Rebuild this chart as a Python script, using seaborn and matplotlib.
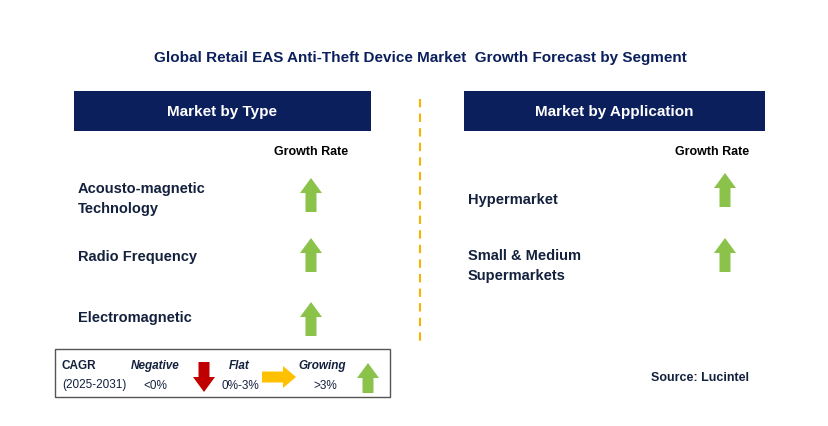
import matplotlib
matplotlib.use("Agg")
import matplotlib.pyplot as plt
import seaborn as sns
from matplotlib.patches import Rectangle, Polygon

sns.set_theme(style="white")
plt.rcParams["font.family"] = "Liberation Sans"

title = "Global Retail EAS Anti-Theft Device Market  Growth Forecast by Segment"
type_labels = ["Acousto-magnetic\nTechnology", "Radio Frequency", "Electromagnetic"]
type_trend = ["up", "up", "up"]
app_labels = ["Hypermarket", "Small & Medium\nSupermarkets"]
app_trend = ["up", "up"]

NAVY = "#0b1f5c"
TXT = "#14213d"
GREEN = "#8bc34a"

fig = plt.figure(figsize=(8.29, 4.27), dpi=100)
ax = fig.add_axes([0, 0, 1, 1])
ax.set_xlim(0, 829); ax.set_ylim(427, 0); ax.axis("off")

def up_arrow(cx, cy, color=GREEN, w=22, sw=11, h=34, hh=15):
    top = cy - h / 2; bot = cy + h / 2
    pts = [(cx, top), (cx + w / 2, top + hh), (cx + sw / 2, top + hh), (cx + sw / 2, bot),
           (cx - sw / 2, bot), (cx - sw / 2, top + hh), (cx - w / 2, top + hh)]
    ax.add_patch(Polygon(pts, closed=True, color=color, lw=0))

def down_arrow(cx, cy, color="#c00000", w=22, sw=11, h=34, hh=15):
    top = cy - h / 2; bot = cy + h / 2
    pts = [(cx, bot), (cx + w / 2, bot - hh), (cx + sw / 2, bot - hh), (cx + sw / 2, top),
           (cx - sw / 2, top), (cx - sw / 2, bot - hh), (cx - w / 2, bot - hh)]
    ax.add_patch(Polygon(pts, closed=True, color=color, lw=0))

def right_arrow(cx, cy, color="#ffc000", w=34, sw=11, h=22, hw=13):
    l = cx - w / 2; r = cx + w / 2
    pts = [(r, cy), (r - hw, cy - h / 2), (r - hw, cy - sw / 2), (l, cy - sw / 2),
           (l, cy + sw / 2), (r - hw, cy + sw / 2), (r - hw, cy + h / 2)]
    ax.add_patch(Polygon(pts, closed=True, color=color, lw=0))

ax.text(420, 58, title, ha="center", va="center", fontsize=11, fontweight="bold", color=NAVY)

for x0, x1, lab in [(74, 371, "Market by Type"), (464, 765, "Market by Application")]:
    ax.add_patch(Rectangle((x0, 92), x1 - x0, 40, color=NAVY, lw=0))
    ax.text((x0 + x1) / 2, 112, lab, ha="center", va="center", color="white", fontsize=11, fontweight="bold")

ax.plot([420, 420], [100, 345], color="#f5b400", lw=1.5, ls=(0, (4, 3)))

ax.text(311, 152, "Growth Rate", ha="center", va="center", fontsize=9, fontweight="bold", color="black")
ax.text(712, 152, "Growth Rate", ha="center", va="center", fontsize=9, fontweight="bold", color="black")

type_y = [199, 257, 318]
arr_y = [196, 256, 320]
for lab, t, y, ay in zip(type_labels, type_trend, type_y, arr_y):
    ax.text(78, y, lab, ha="left", va="center", fontsize=10.5, fontweight="bold", color=TXT, linespacing=1.5)
    up_arrow(311, ay)

app_y = [200, 266]
app_ay = [191, 256]
for lab, t, y, ay in zip(app_labels, app_trend, app_y, app_ay):
    ax.text(468, y, lab, ha="left", va="center", fontsize=10.5, fontweight="bold", color=TXT, linespacing=1.5)
    up_arrow(725, ay)

ax.add_patch(Rectangle((55, 350), 335, 48, fill=False, ec="#555555", lw=1))
ax.text(62, 366, "CAGR", fontsize=8.5, fontweight="bold", color=TXT, va="center")
ax.text(62, 385, "(2025-2031)", fontsize=8.5, color=TXT, va="center")
ax.text(155, 366, "Negative", fontsize=8.5, fontweight="bold", style="italic", color=TXT, ha="center", va="center")
ax.text(155, 386, "<0%", fontsize=8.5, color=TXT, ha="center", va="center")
down_arrow(204, 378, h=30)
ax.text(239, 366, "Flat", fontsize=8.5, fontweight="bold", style="italic", color=TXT, ha="center", va="center")
ax.text(240, 386, "0%-3%", fontsize=8.5, color=TXT, ha="center", va="center")
right_arrow(279, 378, w=34, h=22)
ax.text(322, 366, "Growing", fontsize=8.5, fontweight="bold", style="italic", color=TXT, ha="center", va="center")
ax.text(325, 386, ">3%", fontsize=8.5, color=TXT, ha="center", va="center")
up_arrow(368, 379, h=30)

ax.text(700, 378, "Source: Lucintel", ha="center", va="center", fontsize=9, fontweight="bold", color=TXT)

fig.savefig("out.png", dpi=100)
